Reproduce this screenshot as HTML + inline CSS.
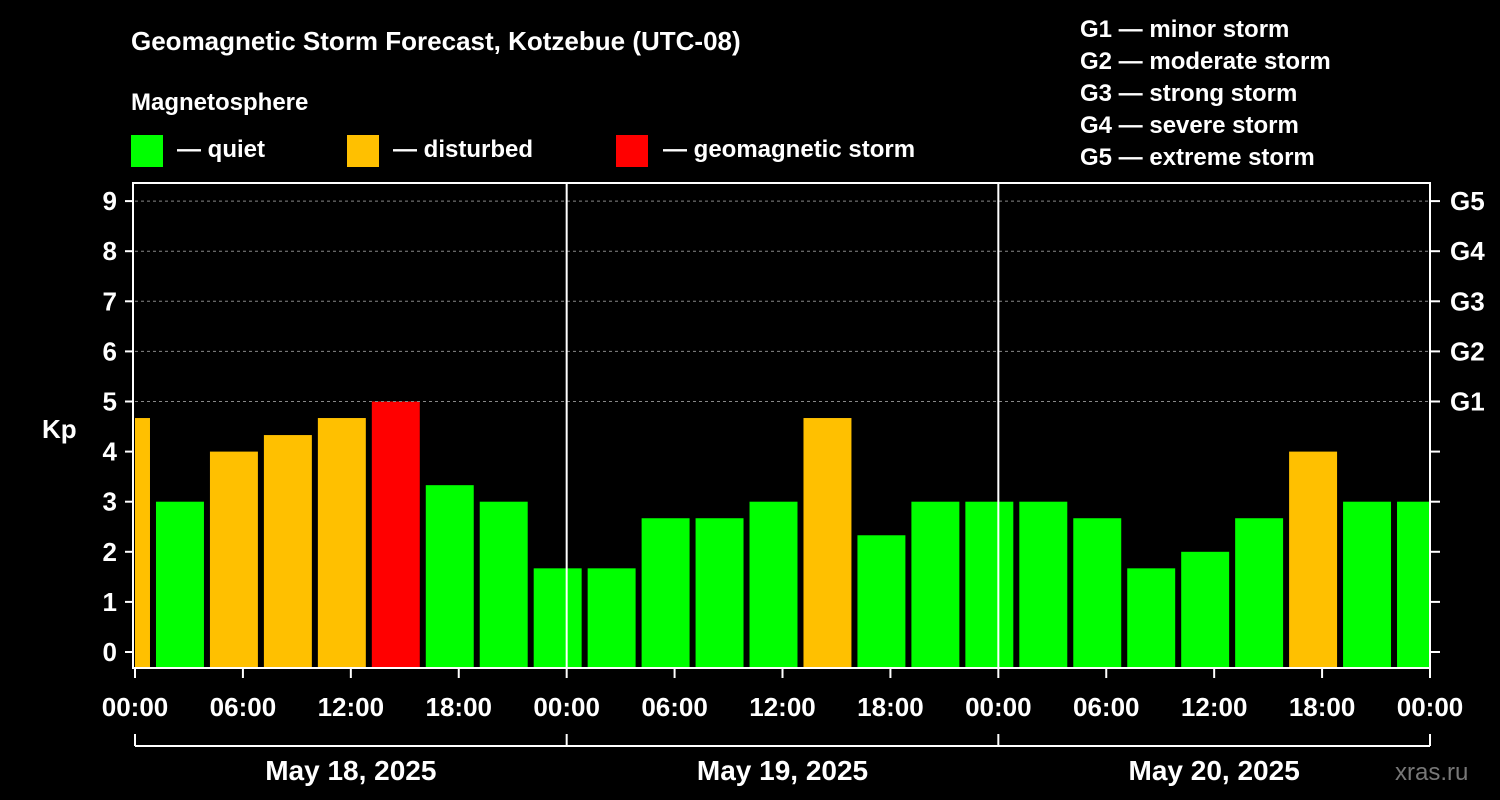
<!DOCTYPE html>
<html><head><meta charset="utf-8"><style>
body{margin:0;background:#000;width:1500px;height:800px;overflow:hidden}
svg{display:block;font-family:"Liberation Sans",sans-serif;font-weight:bold}
</style></head><body>
<svg id="c" width="1500" height="800">
<text x="131" y="50" fill="#fff" font-size="26">Geomagnetic Storm Forecast, Kotzebue (UTC-08)</text>
<text x="131" y="110" fill="#fff" font-size="24">Magnetosphere</text>
<g><rect x="131" y="135" width="32" height="32" fill="#00ff00"/><text x="177" y="157" fill="#fff" font-size="24">— quiet</text></g>
<g><rect x="347" y="135" width="32" height="32" fill="#ffc000"/><text x="393" y="157" fill="#fff" font-size="24">— disturbed</text></g>
<g><rect x="616" y="135" width="32" height="32" fill="#ff0000"/><text x="663" y="157" fill="#fff" font-size="24">— geomagnetic storm</text></g>
<g fill="#fff" font-size="24">
<text x="1080" y="37">G1 — minor storm</text><text x="1080" y="69">G2 — moderate storm</text><text x="1080" y="101">G3 — strong storm</text><text x="1080" y="133">G4 — severe storm</text><text x="1080" y="165">G5 — extreme storm</text></g>
<text x="42" y="438" fill="#fff" font-size="26">Kp</text>
<text x="1395" y="780" fill="#777" font-size="24" font-weight="normal">xras.ru</text>
<g id="bars"></g><g id="axes"></g>
</svg>
<script>
const kpValues=[4.67,3,4,4.33,4.67,5,3.33,3,1.67,1.67,2.67,2.67,3,4.67,2.33,3,3,3,2.67,1.67,2,2.67,4,3,3];
const startHour=-2;
const yTicks=[0,1,2,3,4,5,6,7,8,9];
const gLabels=["G1","G2","G3","G4","G5"];
const xTickLabels=["00:00","06:00","12:00","18:00","00:00","06:00","12:00","18:00","00:00","06:00","12:00","18:00","00:00"];
const dayLabels=["May 18, 2025","May 19, 2025","May 20, 2025"];
const NS="http://www.w3.org/2000/svg";
const L=135,R=1430,T=183,B=668;
const x=h=>L+h*(R-L)/72;
const y=k=>652-k*50.1;
function mk(p,t,a){const e=document.createElementNS(NS,t);for(const k in a)e.setAttribute(k,a[k]);p.appendChild(e);return e;}
const bars=document.getElementById('bars'),ax=document.getElementById('axes');
kpValues.forEach((v,i)=>{
 const h0=startHour+i*3;
 const x0=Math.max(L,x(h0)+3),x1=Math.min(R,x(h0+3)-3);
 const col=v>=5?"#ff0000":v>=4?"#ffc000":"#00ff00";
 const r=mk(bars,'rect',{x:x0,y:y(v),width:x1-x0,height:B-y(v),fill:col});
 
 
});
[5,6,7,8,9].forEach(k=>mk(ax,'line',{x1:L,x2:R,y1:y(k),y2:y(k),stroke:"#888","stroke-dasharray":"3,3","stroke-width":1}));
[1,2].forEach(d=>mk(ax,'line',{x1:x(d*24),x2:x(d*24),y1:T,y2:B,stroke:"#fff","stroke-width":2}));
mk(ax,'rect',{x:L-2,y:T,width:R-L+2,height:B-T,fill:"none",stroke:"#fff","stroke-width":2});
yTicks.forEach(k=>{
 mk(ax,'line',{x1:L-10,x2:L-2,y1:y(k),y2:y(k),stroke:"#fff","stroke-width":2});
 mk(ax,'line',{x1:R,x2:R+10,y1:y(k),y2:y(k),stroke:"#fff","stroke-width":2});
 const t=mk(ax,'text',{x:117,y:y(k)+9,fill:"#fff","font-size":26,"text-anchor":"end"});t.textContent=k;
 
 
});
gLabels.forEach((g,i)=>{
 const t=mk(ax,'text',{x:1450,y:y(5+i)+9,fill:"#fff","font-size":26});t.textContent=g;
 
 
});
xTickLabels.forEach((s,i)=>{
 const xx=x(i*6);
 mk(ax,'line',{x1:xx,x2:xx,y1:B,y2:B+10,stroke:"#fff","stroke-width":2});
 const t=mk(ax,'text',{x:xx,y:716,fill:"#fff","font-size":26,"text-anchor":"middle"});t.textContent=s;
 
 
});
mk(ax,'line',{x1:L,x2:R,y1:746,y2:746,stroke:"#fff","stroke-width":2});
[0,1,2,3].forEach(d=>mk(ax,'line',{x1:x(d*24),x2:x(d*24),y1:734,y2:746,stroke:"#fff","stroke-width":2}));
dayLabels.forEach((s,i)=>{
 const t=mk(ax,'text',{x:x(i*24+12),y:780,fill:"#fff","font-size":28,"text-anchor":"middle"});t.textContent=s;
 
 
});
</script>
</body></html>
